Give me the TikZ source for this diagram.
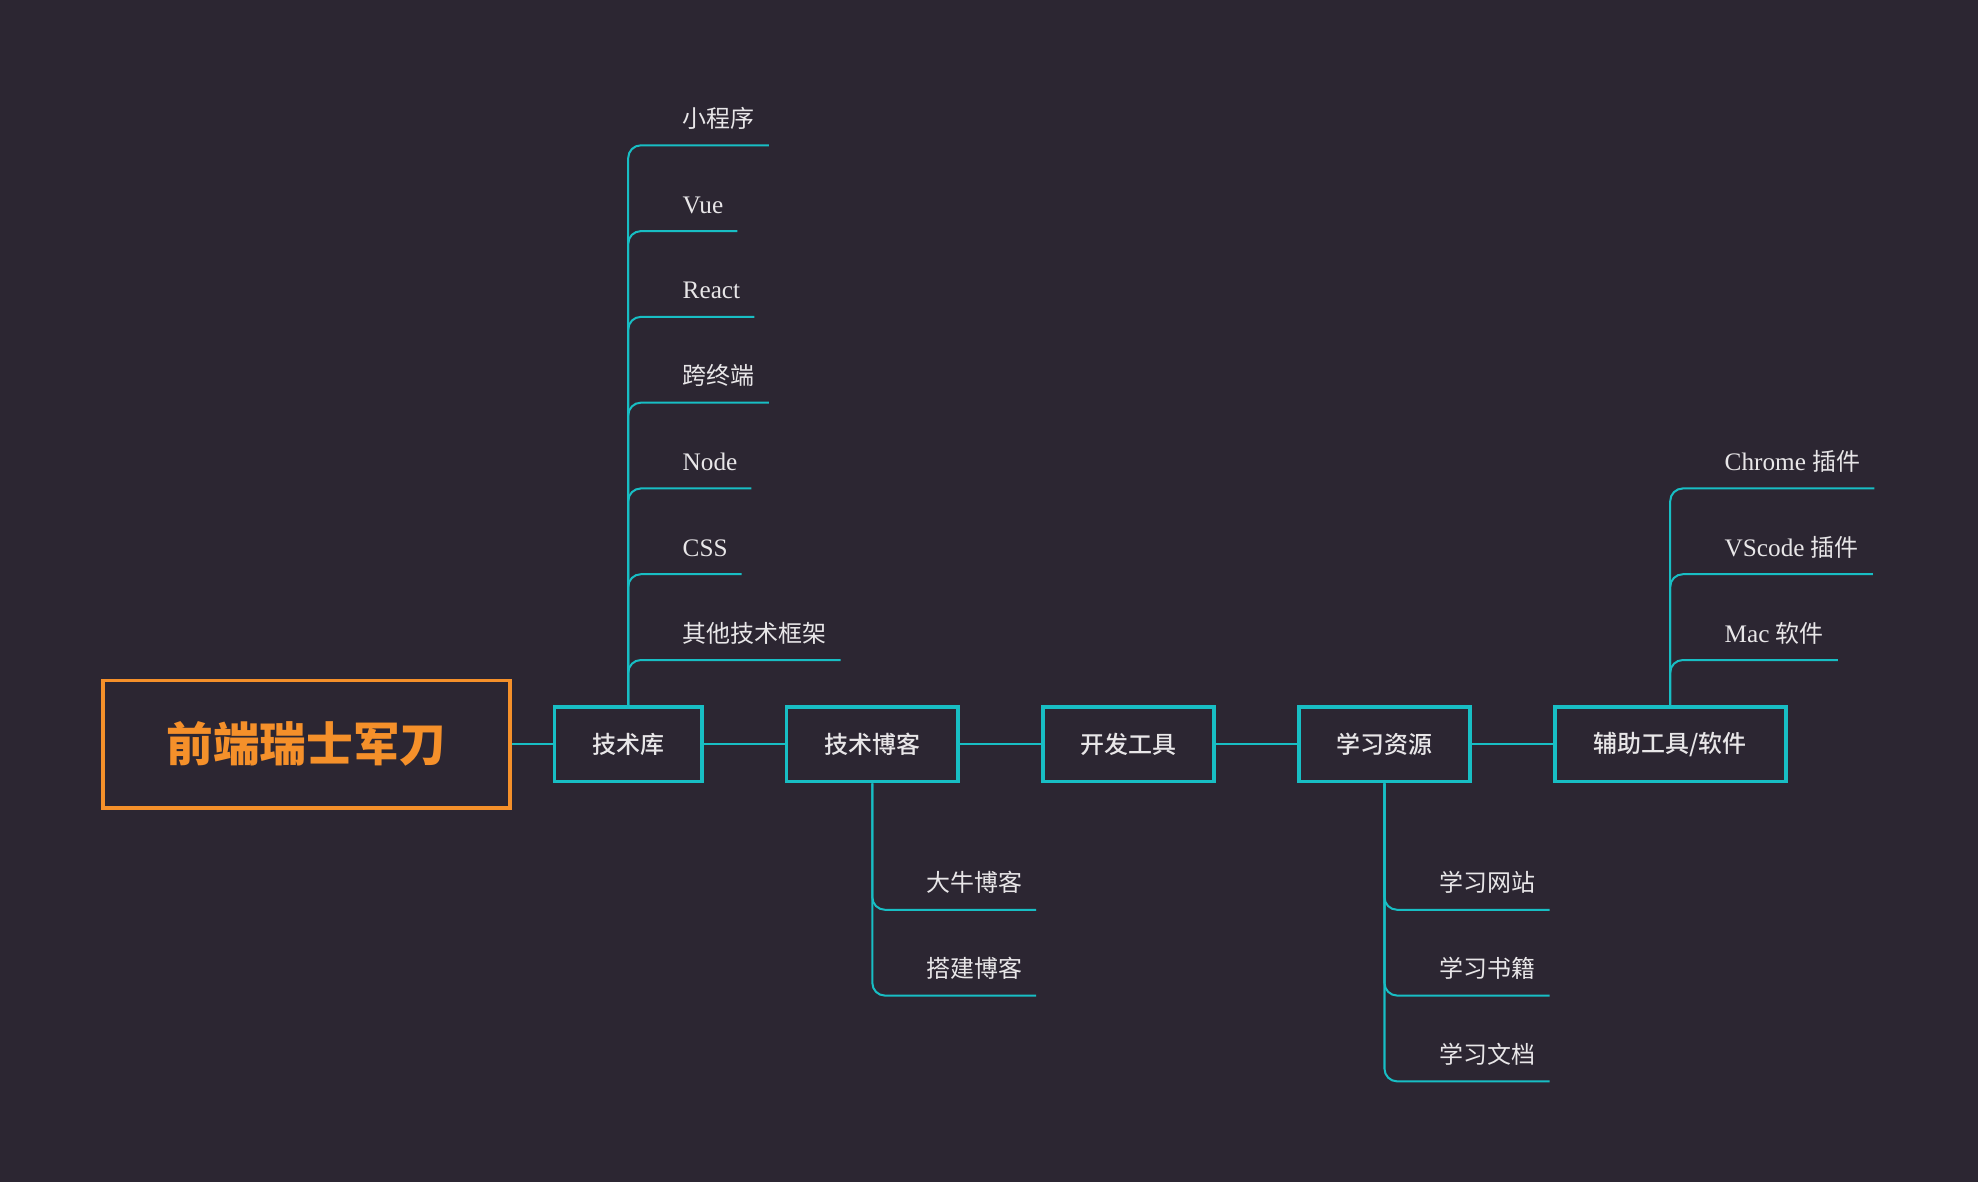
\documentclass[tikz,border=0pt]{standalone}
\usepackage{fontspec}
\setmainfont{Liberation Serif}
\newfontfamily\cjk{Noto Sans CJK SC}
\newfontfamily\cjkm{Noto Sans CJK SC Medium}
\definecolor{bgc}{HTML}{2C2632}
\definecolor{teal}{HTML}{18BEC4}
\definecolor{orng}{HTML}{F5902A}
\definecolor{txt}{HTML}{E8E6E8}
\begin{document}
\begin{tikzpicture}[x=1pt,y=-1pt,
  mainbox/.style={draw=orng,line width=3pt,minimum width=323pt,minimum height=101pt,
    text=orng,font=\cjk\bfseries\fontsize{37}{40}\selectfont,inner sep=0pt},
  topic/.style={draw=teal,line width=3pt,minimum height=59pt,inner sep=0pt,
    text=txt,font=\cjkm\fontsize{19}{22}\selectfont},
  child/.style={anchor=base west,inner xsep=0pt,inner ysep=0pt,text depth=14pt,
    text=txt,font=\fontsize{20}{23}\selectfont},
  cj/.style={font=\cjk\fontsize{19}{22}\selectfont},
  conn/.style={draw=teal,line width=1.6pt,rounded corners=10pt},
  link/.style={draw=teal,line width=1.6pt}]
\useasboundingbox[fill=bgc] (0,0) rectangle (1568,937);

\node[mainbox] (root) at (243,590) {前端瑞士军刀};
\node[topic,minimum width=117pt] (tk) at (498,590) {技术库};
\node[topic,minimum width=136pt] (blog) at (691.5,590) {技术博客};
\node[topic,minimum width=136pt] (dev) at (894.5,590) {开发工具};
\node[topic,minimum width=136pt] (res) at (1097.5,590) {学习资源};
\node[topic,minimum width=183pt] (aux) at (1324,590) {辅助工具/软件};

\draw[link] (root.east) -- (tk.west);
\draw[link] (tk.east) -- (blog.west);
\draw[link] (blog.east) -- (dev.west);
\draw[link] (dev.east) -- (res.west);
\draw[link] (res.east) -- (aux.west);

% children of 技术库
\node[child,cj] (a1) at (541,101) {小程序};
\node[child] (a2) at (541,169) {Vue};
\node[child] (a3) at (541,237) {React};
\node[child,cj] (a4) at (541,305) {跨终端};
\node[child] (a5) at (541,373) {Node};
\node[child] (a6) at (541,441) {CSS};
\node[child,cj] (a7) at (541,509) {其他技术框架};
\foreach \c in {a1,a2,a3,a4,a5,a6,a7}
  \draw[conn] (tk.north) |- ([xshift=11pt]\c.south east);

% children of 技术博客
\node[child,cj] (b1) at (734,707) {大牛博客};
\node[child,cj] (b2) at (734,775) {搭建博客};
\foreach \c in {b1,b2}
  \draw[conn] (blog.south) |- ([xshift=11pt]\c.south east);

% children of 学习资源
\node[child,cj] (r1) at (1141,707) {学习网站};
\node[child,cj] (r2) at (1141,775) {学习书籍};
\node[child,cj] (r3) at (1141,843) {学习文档};
\foreach \c in {r1,r2,r3}
  \draw[conn] (res.south) |- ([xshift=11pt]\c.south east);

% children of 辅助工具/软件
\node[child] (x1) at (1367,373) {Chrome {\cjk\fontsize{19}{22}\selectfont 插件}};
\node[child] (x2) at (1367,441) {VScode {\cjk\fontsize{19}{22}\selectfont 插件}};
\node[child] (x3) at (1367,509) {Mac {\cjk\fontsize{19}{22}\selectfont 软件}};
\foreach \c in {x1,x2,x3}
  \draw[conn] (aux.north) |- ([xshift=11pt]\c.south east);
\end{tikzpicture}
\end{document}
